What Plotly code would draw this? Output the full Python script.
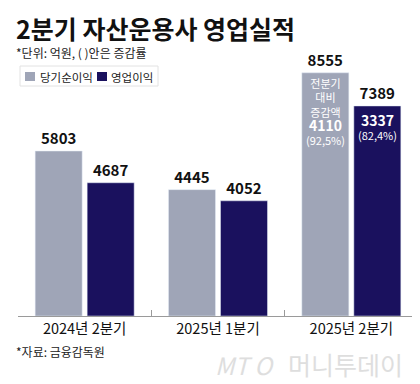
import plotly.graph_objects as go

categories = ["2024년 2분기", "2025년 1분기", "2025년 2분기"]
net_income = [5803, 4445, 8555]
op_income = [4687, 4052, 7389]
series_names = ["당기순이익", "영업이익"]
net_change_lines = ["전분기", "대비", "증감액"]
net_change = "4110"
net_change_pct = "(92,5%)"
op_change = "3337"
op_change_pct = "(82,4%)"

LIGHT = "#9fa5b7"
DARK = "#1a115e"
FONT = "Noto Sans CJK KR"

# plot area in pixels: x 10..410, y 40..308
def px(xp):
    return (xp - 10) / 400.0

def py(yp):
    return (308 - yp) / 268.0

fig = go.Figure()
for name, vals, col in [(series_names[0], net_income, LIGHT), (series_names[1], op_income, DARK)]:
    fig.add_trace(go.Bar(
        x=categories, y=vals, name=name, marker_color=col,
        text=[f"{v}" for v in vals], textposition="outside",
        textfont=dict(family=FONT, size=15, color="#111111"),
        texttemplate="<b>%{text}</b>", cliponaxis=False, showlegend=False,
    ))

ann = []
net_text = ("<br>".join(f"<span style='font-size:11px'>{t}</span>" for t in net_change_lines)
            + f"<br><b><span style='font-size:14px'>{net_change}</span></b>"
            + f"<br><span style='font-size:11px'>{net_change_pct}</span>")
ann.append(dict(x=2, y=net_income[2], xref="x", yref="y", xshift=-26, yshift=-1,
                yanchor="top", showarrow=False, text=net_text, borderpad=0, align="center",
                font=dict(family=FONT, size=11, color="white")))
op_text = (f"<b><span style='font-size:14px'>{op_change}</span></b>"
           + f"<br><span style='font-size:11px'>{op_change_pct}</span>")
ann.append(dict(x=2, y=op_income[2], xref="x", yref="y", xshift=26, yshift=-3,
                yanchor="top", showarrow=False, text=op_text, borderpad=0, align="center",
                font=dict(family=FONT, size=11, color="white")))

# title, subtitle, source, watermark
ann.append(dict(x=0, y=1, xref="paper", yref="paper", xshift=-4, yshift=20,
                xanchor="left", yanchor="middle", showarrow=False,
                text="<b>2분기 자산운용사 영업실적</b>",
                font=dict(family=FONT, size=25, color="#111111")))
ann.append(dict(x=0, y=1, xref="paper", yref="paper", xshift=-4, yshift=-4,
                xanchor="left", yanchor="middle", showarrow=False,
                text="*단위: 억원, ( )안은 증감률",
                font=dict(family=FONT, size=12, color="#222222")))
ann.append(dict(x=0, y=0, xref="paper", yref="paper", xshift=-4, yshift=-35,
                xanchor="left", yanchor="middle", showarrow=False,
                text="*자료: 금융감독원",
                font=dict(family=FONT, size=12, color="#222222")))
ann.append(dict(x=px(205), y=0, xref="paper", yref="paper", yshift=-48,
                xanchor="left", yanchor="middle", showarrow=False,
                text="<i>MT</i> <i>O</i>",
                font=dict(family=FONT, size=24, color="#dedede")))
ann.append(dict(x=px(278), y=0, xref="paper", yref="paper", yshift=-48,
                xanchor="left", yanchor="middle", showarrow=False,
                text="머니투데이",
                font=dict(family=FONT, size=25, color="#dedede")))

# manual legend
shapes = [
    dict(type="rect", xref="paper", yref="paper", x0=px(12), x1=px(150), y0=py(78), y1=py(58),
         line=dict(color="#e2e2e2", width=1), fillcolor="white", layer="below"),
    dict(type="rect", xref="paper", yref="paper", x0=px(17), x1=px(27), y0=py(73), y1=py(64),
         line=dict(width=0), fillcolor=LIGHT),
    dict(type="rect", xref="paper", yref="paper", x0=px(89), x1=px(99), y0=py(73), y1=py(64),
         line=dict(width=0), fillcolor=DARK),
]
ann.append(dict(x=px(30), y=py(68.5), xref="paper", yref="paper", xanchor="left", yanchor="middle",
                showarrow=False, text=series_names[0], font=dict(family=FONT, size=11.5, color="#222222")))
ann.append(dict(x=px(101), y=py(68.5), xref="paper", yref="paper", xanchor="left", yanchor="middle",
                showarrow=False, text=series_names[1], font=dict(family=FONT, size=11.5, color="#222222")))

fig.update_layout(
    width=420, height=384,
    margin=dict(l=10, r=10, t=40, b=76),
    paper_bgcolor="white", plot_bgcolor="white",
    barmode="group", bargap=0.22, bargroupgap=0.096,
    showlegend=False,
    xaxis=dict(type="category", showline=True, linecolor="#9a9a9a", linewidth=1,
               ticks="inside", tickson="boundaries", ticklen=6, tickcolor="#9a9a9a",
               tickfont=dict(family=FONT, size=14.5, color="#111111"),
               showgrid=False, fixedrange=True),
    yaxis=dict(range=[0, 9427], visible=False, showgrid=False, fixedrange=True),
    annotations=ann, shapes=shapes,
    font=dict(family=FONT),
)

fig.write_html("out.html")
